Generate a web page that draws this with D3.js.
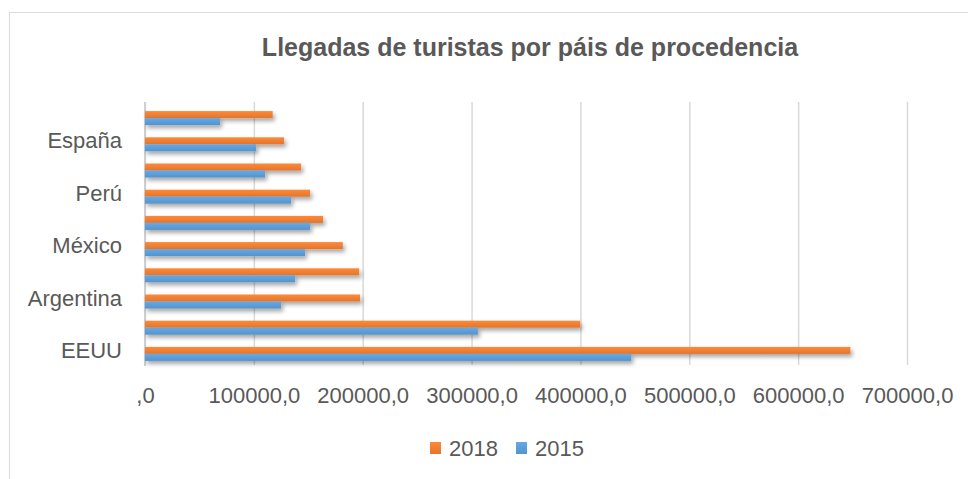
<!DOCTYPE html>
<html>
<head>
<meta charset="utf-8">
<script src="https://cdn.jsdelivr.net/npm/d3@7"></script>
<style>
  body { margin: 0; background: #fff; }
  svg { display: block; }
</style>
</head>
<body>
<div id="chart"></div>
<script>
// categories from bottom to top (only every other one gets a label, like the original)
var categories = ["EEUU", "Canadá", "Argentina", "Colombia", "México", "Chile", "Perú", "Brasil", "España", "Alemania"];
var labeled = ["EEUU", "Argentina", "México", "Perú", "España"];
var series = ["2018", "2015"];
var values2018 = [648000, 399800, 197600, 196700, 181700, 163600, 151700, 143400, 127800, 117300];
var values2015 = [446700, 305800, 125000, 137900, 147000, 151700, 134200, 110300, 102000, 68900];
var xTicks = [0, 100000, 200000, 300000, 400000, 500000, 600000, 700000];
var colors = {"2018": "#ED7D31", "2015": "#5B9BD5"};

var w = 968, h = 479;
var plotLeft = 145, plotRight = 907, plotTop = 102, plotBottom = 365;

var svg = d3.select("#chart").append("svg")
  .attr("width", w)
  .attr("height", h);

var defs = svg.append("defs");
var shadow = defs.append("filter").attr("id", "shadow")
  .attr("x", "-5%").attr("y", "-50%").attr("width", "120%").attr("height", "250%");
shadow.append("feDropShadow")
  .attr("dx", 2).attr("dy", 3).attr("stdDeviation", 2)
  .attr("flood-color", "#000").attr("flood-opacity", 0.35);

series.forEach(function(s) {
  var g = defs.append("linearGradient").attr("id", "grad" + s)
    .attr("x1", 0).attr("y1", 0).attr("x2", 0).attr("y2", 1);
  var c = d3.color(colors[s]);
  g.append("stop").attr("offset", "0%").attr("stop-color", c.brighter(0.25));
  g.append("stop").attr("offset", "100%").attr("stop-color", c.darker(0.15));
});

// chart border
svg.append("rect")
  .attr("x", 9.5).attr("y", 12.5)
  .attr("width", 980).attr("height", 500)
  .attr("fill", "none").attr("stroke", "#d9d9d9");

svg.append("text")
  .attr("x", 530).attr("y", 56)
  .attr("text-anchor", "middle")
  .attr("font-family", "Liberation Sans")
  .attr("font-weight", "bold")
  .attr("font-size", 25)
  .attr("fill", "#595959")
  .text("Llegadas de turistas por páis de procedencia");

var x = d3.scaleLinear().domain([0, 700000]).range([plotLeft, plotRight]);

var y = d3.scaleBand()
  .domain(categories)
  .range([367, 105])
  .paddingInner(0.465)
  .paddingOuter(0.2325);

var yInner = d3.scaleBand().domain(series).range([0, y.bandwidth()]);

// gridlines
svg.append("g")
  .attr("transform", "translate(0," + plotBottom + ")")
  .call(d3.axisBottom(x).tickValues(xTicks).tickSize(-(plotBottom - plotTop)).tickFormat(""))
  .call(function(g) { g.select(".domain").remove(); })
  .call(function(g) { g.selectAll(".tick line").attr("stroke", "#d9d9d9").attr("stroke-width", 1.5); });

svg.append("line")
  .attr("x1", plotLeft).attr("x2", plotLeft)
  .attr("y1", plotTop).attr("y2", plotBottom + 1)
  .attr("stroke", "#cfcfcf").attr("stroke-width", 2);

// bars
var rows = categories.map(function(c, i) {
  return {cat: c, "2018": values2018[i], "2015": values2015[i]};
});

var groups = svg.append("g").selectAll("g")
  .data(rows)
  .join("g")
  .attr("transform", function(d) { return "translate(0," + y(d.cat) + ")"; });

groups.selectAll("rect")
  .data(function(d) { return series.map(function(s) { return {s: s, v: d[s]}; }); })
  .join("rect")
  .attr("x", x(0))
  .attr("y", function(d) { return yInner(d.s); })
  .attr("width", function(d) { return x(d.v) - x(0); })
  .attr("height", yInner.bandwidth())
  .attr("fill", function(d) { return "url(#grad" + d.s + ")"; })
  .attr("filter", "url(#shadow)");

// x axis labels
svg.append("g")
  .attr("transform", "translate(0,403)")
  .call(d3.axisBottom(x).tickValues(xTicks).tickSize(0).tickPadding(0)
    .tickFormat(function(d) { return d === 0 ? ",0" : d + ",0"; }))
  .call(function(g) { g.select(".domain").remove(); })
  .call(function(g) {
    g.selectAll("text")
      .attr("dy", 0)
      .attr("font-family", "Liberation Sans")
      .attr("font-size", 22)
      .attr("fill", "#595959");
  });

// y axis labels
svg.append("g")
  .attr("transform", "translate(122,-3)")
  .call(d3.axisLeft(y).tickValues(labeled).tickSize(0).tickPadding(0))
  .call(function(g) { g.select(".domain").remove(); })
  .call(function(g) {
    g.selectAll("text")
      .attr("font-family", "Liberation Sans")
      .attr("font-size", 22)
      .attr("fill", "#595959");
  });

// legend
var legend = svg.append("g").attr("transform", "translate(430,440)");
var lx = [0, 86];
series.forEach(function(s, i) {
  legend.append("rect")
    .attr("x", lx[i]).attr("y", 2)
    .attr("width", 11).attr("height", 12)
    .attr("fill", "url(#grad" + s + ")");
  legend.append("text")
    .attr("x", lx[i] + 19).attr("y", 16)
    .attr("font-family", "Liberation Sans")
    .attr("font-size", 22)
    .attr("fill", "#595959")
    .text(s);
});
</script>
</body>
</html>
